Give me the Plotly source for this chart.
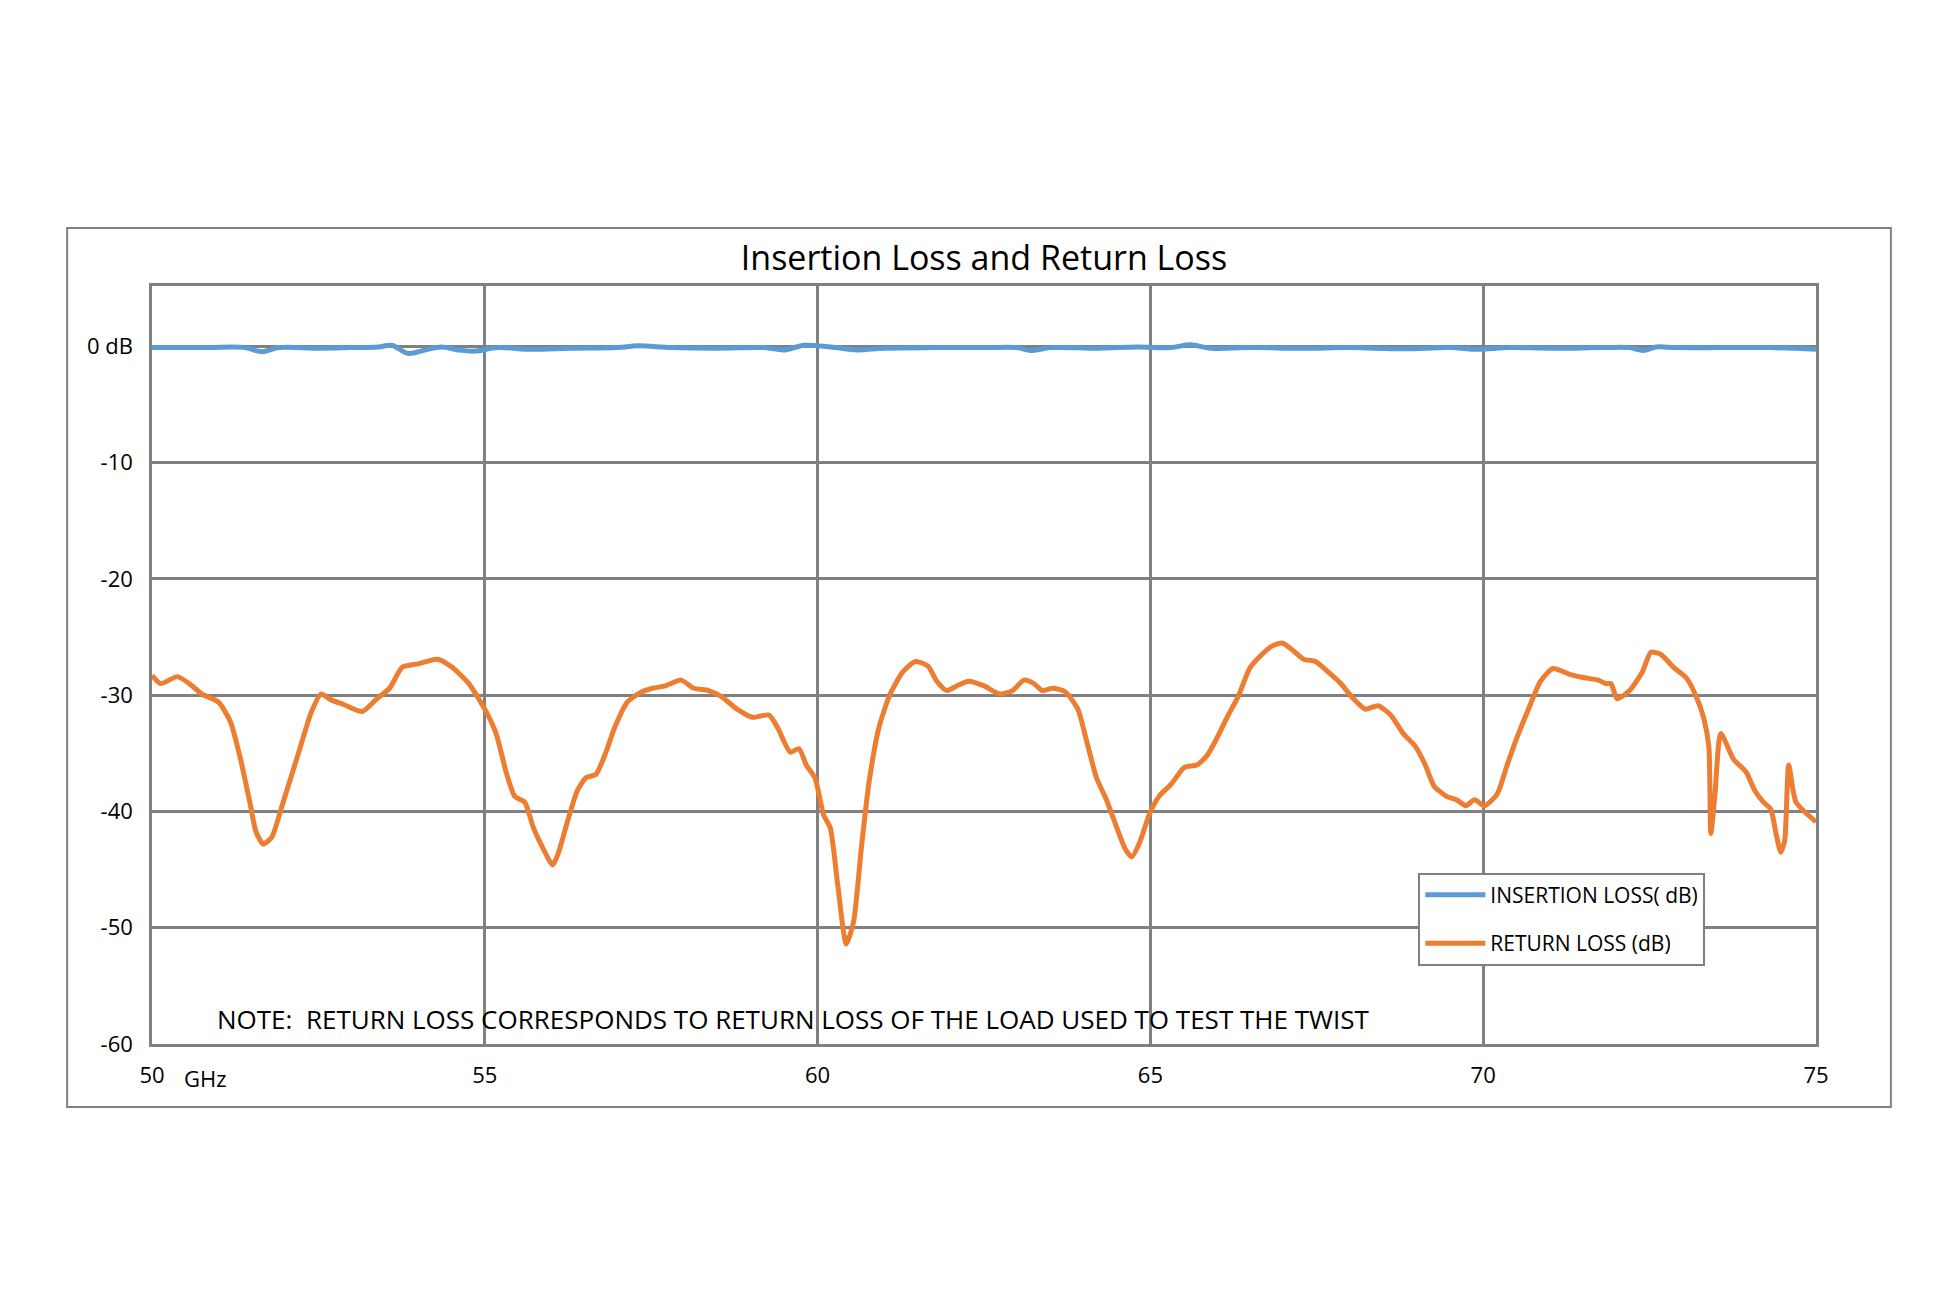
import plotly.graph_objects as go

# frequency (GHz) and return loss (dB)
rl_freq = [50.0, 50.13, 50.38, 50.56, 50.75, 51.0, 51.18, 51.33, 51.47, 51.56, 51.67, 51.8, 51.97,
           52.2, 52.39, 52.54, 52.69, 52.88, 53.16, 53.38, 53.57, 53.76, 54.0, 54.29, 54.51, 54.76,
           55.0, 55.17, 55.32, 55.45, 55.6, 55.73, 55.86, 56.02, 56.11, 56.24, 56.39, 56.52, 56.67,
           56.82, 56.95, 57.14, 57.33, 57.52, 57.71, 57.95, 58.14, 58.36, 58.55, 58.79, 59.02, 59.27,
           59.4, 59.59, 59.72, 59.83, 59.96, 60.09, 60.19, 60.3, 60.43, 60.54, 60.66, 60.77, 60.92,
           61.09, 61.28, 61.47, 61.66, 61.79, 61.94, 62.09, 62.27, 62.5, 62.74, 62.93, 63.1, 63.25,
           63.38, 63.53, 63.72, 63.91, 64.04, 64.19, 64.34, 64.47, 64.62, 64.72, 64.85, 64.98, 65.13,
           65.32, 65.51, 65.7, 65.85, 65.98, 66.17, 66.32, 66.49, 66.64, 66.82, 66.98, 67.11, 67.3,
           67.48, 67.67, 67.86, 68.05, 68.23, 68.42, 68.61, 68.8, 68.98, 69.13, 69.26, 69.45, 69.6,
           69.74, 69.87, 70.02, 70.21, 70.36, 70.49, 70.68, 70.86, 71.05, 71.3, 71.52, 71.73, 71.84,
           71.92, 72.01, 72.2, 72.39, 72.52, 72.67, 72.86, 73.05, 73.2, 73.31, 73.39, 73.42, 73.48,
           73.57, 73.76, 73.95, 74.08, 74.21, 74.32, 74.4, 74.47, 74.53, 74.59, 74.7, 75.0]
rl_db = [-28.3, -29.0, -28.4, -29.0, -29.9, -30.6, -32.3, -35.5, -39.2, -41.7, -42.8, -42.2, -39.2,
         -35.0, -31.5, -29.9, -30.4, -30.8, -31.4, -30.3, -29.4, -27.6, -27.3, -26.9, -27.6, -29.0,
         -31.2, -33.3, -36.6, -38.7, -39.2, -41.4, -43.0, -44.6, -43.5, -40.9, -38.2, -37.1, -36.8,
         -34.9, -32.8, -30.6, -29.8, -29.4, -29.2, -28.7, -29.4, -29.6, -30.1, -31.2, -31.9, -31.7,
         -32.8, -34.9, -34.6, -36.0, -37.1, -40.3, -41.4, -46.2, -51.4, -49.5, -43.0, -37.6, -32.8,
         -29.9, -28.0, -27.1, -27.5, -28.8, -29.6, -29.2, -28.8, -29.2, -29.9, -29.6, -28.7, -29.0,
         -29.6, -29.4, -29.7, -31.2, -33.9, -37.1, -39.0, -41.0, -43.2, -43.9, -42.5, -40.3, -38.7,
         -37.6, -36.2, -36.0, -35.2, -33.9, -31.7, -30.1, -27.7, -26.7, -25.8, -25.5, -26.0, -26.9,
         -27.1, -28.0, -29.0, -30.3, -31.2, -30.9, -31.7, -33.3, -34.4, -36.0, -37.8, -38.7, -39.0,
         -39.5, -39.0, -39.5, -38.5, -36.0, -33.9, -31.2, -28.8, -27.7, -28.2, -28.5, -28.7, -29.0,
         -29.0, -30.3, -29.6, -28.0, -26.3, -26.5, -27.6, -28.5, -30.1, -31.9, -34.4, -41.9, -38.7,
         -33.3, -35.5, -36.6, -38.2, -39.2, -39.8, -41.9, -43.5, -42.5, -36.0, -39.2, -40.9, -40.5]

# insertion loss stays near 0 dB with small ripples
il_freq = [50.0, 50.8, 51.4, 51.65, 51.9, 52.5, 53.0, 53.4, 53.6, 53.85, 54.1, 54.35, 54.6,
           54.85, 55.2, 55.7, 56.3, 57.0, 57.3, 57.8, 58.5, 59.2, 59.5, 59.8, 60.2, 60.6, 61.0,
           61.8, 62.5, 63.0, 63.2, 63.5, 64.2, 64.8, 65.3, 65.6, 65.9, 66.5, 67.3, 68.0, 68.8,
           69.5, 69.9, 70.4, 71.0, 71.8, 72.2, 72.4, 72.6, 72.9, 73.6, 74.3, 75.0]
il_db = [-0.1, -0.1, -0.1, -0.45, -0.1, -0.15, -0.1, -0.05, 0.1, -0.6, -0.3, -0.05, -0.3,
         -0.4, -0.1, -0.25, -0.15, -0.1, 0.05, -0.1, -0.15, -0.1, -0.3, 0.1, -0.05, -0.3, -0.15,
         -0.1, -0.1, -0.1, -0.35, -0.1, -0.15, -0.05, -0.1, 0.15, -0.15, -0.1, -0.15, -0.1, -0.2,
         -0.1, -0.25, -0.1, -0.15, -0.1, -0.1, -0.35, -0.05, -0.1, -0.1, -0.1, -0.25]

x_ticks = [50, 55, 60, 65, 70, 75]
y_ticks = [0, -10, -20, -30, -40, -50, -60]
y_labels = ["0 dB", "-10", "-20", "-30", "-40", "-50", "-60"]

font = "Open Sans"
grid = "#808080"

fig = go.Figure()
fig.add_trace(go.Scatter(x=il_freq, y=il_db, mode="lines", name="INSERTION LOSS( dB)",
                         legendgroup="il",
                         line=dict(color="#5b9bd5", width=5, shape="spline")))
fig.add_trace(go.Scatter(x=rl_freq, y=rl_db, mode="lines", name="RETURN LOSS (dB)",
                         legendgroup="rl",
                         line=dict(color="#ed7d31", width=5, shape="spline", smoothing=0.6)))

fig.update_layout(
    width=1952, height=1301,
    paper_bgcolor="white", plot_bgcolor="white",
    margin=dict(l=144, r=144, t=278, b=265),
    font=dict(family=font, size=21, color="black"),
    title=dict(text="Insertion Loss and Return Loss", x=0.5, xanchor="center",
               y=1 - 250 / 1301, yanchor="middle", font=dict(size=34)),
    legend=dict(x=0.761, y=0.226, xanchor="left", yanchor="top",
                bgcolor="white", bordercolor=grid, borderwidth=2,
                font=dict(size=21), itemwidth=60, tracegroupgap=18),
    showlegend=True,
)
fig.update_xaxes(range=[50, 75], tickvals=x_ticks, showgrid=True, gridcolor=grid, gridwidth=2.5,
                 showline=True, linecolor=grid, linewidth=2.5, mirror=True, zeroline=False,
                 ticks="", ticklabelstandoff=10, tickfont=dict(size=22))
fig.update_yaxes(range=[-60, 5.2], tickvals=y_ticks, ticktext=y_labels, showgrid=True,
                 gridcolor=grid, gridwidth=2.5, showline=True, linecolor=grid, linewidth=2.5,
                 mirror=True, zeroline=False, ticks="", ticklabelstandoff=12, tickfont=dict(size=22))

# outer chart border
fig.add_shape(type="rect", xref="paper", yref="paper", x0=-0.051, x1=1.045, y0=-0.083, y1=1.0765,
              line=dict(color=grid, width=2), layer="below")

fig.add_annotation(text="NOTE:  RETURN LOSS CORRESPONDS TO RETURN LOSS OF THE LOAD USED TO TEST THE TWIST",
                   xref="paper", yref="paper", x=0.038, y=0.033, xanchor="left", yanchor="middle",
                   showarrow=False, font=dict(size=26))
fig.add_annotation(text="GHz", xref="paper", yref="paper", x=0.032, y=-0.045, xanchor="center",
                   yanchor="middle", showarrow=False, font=dict(size=22))

fig.write_html("out.html")
